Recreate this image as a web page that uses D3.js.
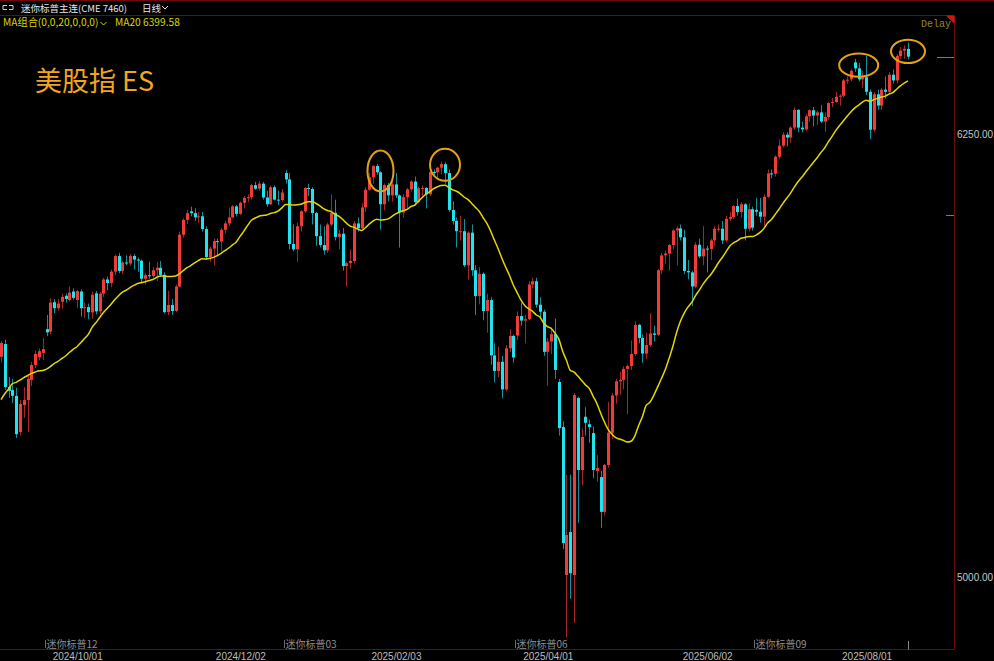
<!DOCTYPE html>
<html><head><meta charset="utf-8">
<script src="https://cdn.jsdelivr.net/npm/d3@7"></script>
<style>html,body{margin:0;padding:0;background:#000;overflow:hidden}svg{display:block}</style>
</head><body>
<svg id="chart" width="994" height="661"></svg>
<script>
// ---------------- DATA ----------------
const dates = [
"2024/08/30",
"2024/09/03","2024/09/04","2024/09/05","2024/09/06","2024/09/09","2024/09/10","2024/09/11","2024/09/12","2024/09/13","2024/09/16","2024/09/17","2024/09/18","2024/09/19","2024/09/20","2024/09/23","2024/09/24","2024/09/25","2024/09/26","2024/09/27","2024/09/30",
"2024/10/01","2024/10/02","2024/10/03","2024/10/04","2024/10/07","2024/10/08","2024/10/09","2024/10/10","2024/10/11","2024/10/14","2024/10/15","2024/10/16","2024/10/17","2024/10/18","2024/10/21","2024/10/22","2024/10/23","2024/10/24","2024/10/25","2024/10/28","2024/10/29","2024/10/30","2024/10/31",
"2024/11/01","2024/11/04","2024/11/05","2024/11/06","2024/11/07","2024/11/08","2024/11/11","2024/11/12","2024/11/13","2024/11/14","2024/11/15","2024/11/18","2024/11/19","2024/11/20","2024/11/21","2024/11/22","2024/11/25","2024/11/26","2024/11/27","2024/11/29",
"2024/12/02","2024/12/03","2024/12/04","2024/12/05","2024/12/06","2024/12/09","2024/12/10","2024/12/11","2024/12/12","2024/12/13","2024/12/16","2024/12/17","2024/12/18","2024/12/19","2024/12/20","2024/12/23","2024/12/24","2024/12/26","2024/12/27","2024/12/30","2024/12/31",
"2025/01/02","2025/01/03","2025/01/06","2025/01/07","2025/01/08","2025/01/10","2025/01/13","2025/01/14","2025/01/15","2025/01/16","2025/01/17","2025/01/21","2025/01/22","2025/01/23","2025/01/24","2025/01/27","2025/01/28","2025/01/29","2025/01/30","2025/01/31",
"2025/02/03","2025/02/04","2025/02/05","2025/02/06","2025/02/07","2025/02/10","2025/02/11","2025/02/12","2025/02/13","2025/02/14","2025/02/18","2025/02/19","2025/02/20","2025/02/21","2025/02/24","2025/02/25","2025/02/26","2025/02/27","2025/02/28",
"2025/03/03","2025/03/04","2025/03/05","2025/03/06","2025/03/07","2025/03/10","2025/03/11","2025/03/12","2025/03/13","2025/03/14","2025/03/17","2025/03/18","2025/03/19","2025/03/20","2025/03/21","2025/03/24","2025/03/25","2025/03/26","2025/03/27","2025/03/28","2025/03/31",
"2025/04/01","2025/04/02","2025/04/03","2025/04/04","2025/04/07","2025/04/08","2025/04/09","2025/04/10","2025/04/11","2025/04/14","2025/04/15","2025/04/16","2025/04/17","2025/04/21","2025/04/22","2025/04/23","2025/04/24","2025/04/25","2025/04/28","2025/04/29","2025/04/30",
"2025/05/01","2025/05/02","2025/05/05","2025/05/06","2025/05/07","2025/05/08","2025/05/09","2025/05/12","2025/05/13","2025/05/14","2025/05/15","2025/05/16","2025/05/19","2025/05/20","2025/05/21","2025/05/22","2025/05/23","2025/05/27","2025/05/28","2025/05/29","2025/05/30",
"2025/06/02","2025/06/03","2025/06/04","2025/06/05","2025/06/06","2025/06/09","2025/06/10","2025/06/11","2025/06/12","2025/06/13","2025/06/16","2025/06/17","2025/06/18","2025/06/20","2025/06/23","2025/06/24","2025/06/25","2025/06/26","2025/06/27","2025/06/30",
"2025/07/01","2025/07/02","2025/07/03","2025/07/07","2025/07/08","2025/07/09","2025/07/10","2025/07/11","2025/07/14","2025/07/15","2025/07/16","2025/07/17","2025/07/18","2025/07/21","2025/07/22","2025/07/23","2025/07/24","2025/07/25","2025/07/28","2025/07/29","2025/07/30","2025/07/31",
"2025/08/01","2025/08/04","2025/08/05","2025/08/06","2025/08/07","2025/08/08","2025/08/11","2025/08/12","2025/08/13","2025/08/14","2025/08/15"
];
const opens = [5622,5658,5537,5528,5512,5410,5486,5500,5557,5599,5621,5633,5700,5693,5776,5759,5777,5794,5782,5806,5782,5806,5759,5762,5747,5801,5750,5800,5840,5830,5862,5906,5864,5888,5885,5906,5896,5893,5842,5852,5850,5866,5873,5853,5748,5768,5751,5820,5966,6008,6032,6027,6015,6018,5982,5903,5927,5948,5947,5980,5998,6015,6046,6025,6056,6070,6072,6106,6096,6110,6071,6052,6100,6065,6064,6140,6122,5940,5925,5990,6032,6098,6095,6027,5962,5937,5922,5995,6028,5960,5969,5878,5886,5892,5998,5984,6043,6093,6128,6160,6142,6052,6106,6077,6108,6077,6029,6072,6094,6116,6058,6097,6098,6080,6143,6142,6155,6165,6140,6036,6005,5976,5976,5880,5972,5866,5793,5856,5751,5782,5626,5582,5608,5530,5646,5681,5682,5737,5724,5728,5826,5835,5769,5749,5636,5665,5686,5551,5424,5007,5128,5007,5506,5303,5453,5432,5407,5300,5283,5185,5317,5408,5513,5553,5557,5588,5596,5630,5712,5675,5631,5655,5688,5684,5866,5908,5913,5937,5978,5984,5959,5864,5860,5820,5938,5905,5927,5926,5950,5983,5983,5950,6011,6016,6047,6030,6052,5983,6038,6036,6031,6017,6073,6139,6138,6186,6217,6248,6240,6268,6318,6268,6263,6300,6317,6302,6311,6285,6298,6337,6340,6355,6358,6401,6404,6452,6435,6404,6410,6369,6262,6362,6330,6375,6369,6417,6401,6470,6485,6490];
const highs = [5667,5670,5565,5560,5535,5500,5537,5568,5607,5640,5645,5675,5740,5787,5785,5785,5800,5800,5820,5815,5810,5812,5775,5772,5805,5808,5805,5845,5848,5868,5910,5915,5892,5908,5912,5912,5902,5896,5858,5890,5875,5890,5892,5860,5808,5785,5825,5975,6012,6036,6045,6040,6030,6030,5990,5932,5955,5955,5985,6005,6043,6050,6050,6060,6075,6080,6110,6115,6118,6115,6090,6105,6105,6090,6095,6148,6140,5995,6000,6036,6100,6110,6100,6030,5995,5990,6000,6080,6065,5980,5985,5890,5925,6005,6015,6055,6100,6140,6162,6166,6145,6110,6112,6120,6140,6080,6080,6098,6120,6130,6102,6105,6100,6146,6150,6158,6172,6170,6150,6060,6015,6020,6010,5975,5995,5880,5875,5860,5800,5790,5660,5650,5625,5655,5700,5685,5750,5775,5740,5835,5845,5845,5790,5755,5675,5705,5730,5560,5440,5290,5290,5520,5510,5420,5480,5445,5425,5345,5300,5320,5495,5520,5560,5580,5595,5600,5668,5722,5715,5685,5690,5745,5710,5870,5915,5922,5940,5982,5990,5995,5980,5895,5865,5945,5955,5990,5935,5955,5990,5995,6005,6020,6030,6050,6068,6058,6055,6055,6045,6070,6070,6080,6150,6150,6190,6235,6255,6255,6272,6325,6320,6285,6305,6320,6326,6316,6331,6311,6340,6352,6368,6362,6405,6412,6432,6462,6450,6428,6470,6375,6368,6375,6380,6412,6425,6432,6475,6495,6500,6508];
const lows = [5606,5529,5506,5492,5393,5400,5450,5410,5540,5590,5612,5613,5680,5685,5745,5752,5758,5775,5778,5783,5760,5735,5732,5728,5730,5742,5742,5790,5810,5818,5852,5858,5855,5880,5878,5868,5862,5828,5826,5842,5845,5835,5848,5744,5740,5740,5748,5818,5958,5996,6018,6005,6000,5975,5895,5890,5880,5905,5920,5970,5990,6012,6018,6022,6040,6058,6065,6092,6090,6065,6045,6050,6063,6050,6060,6110,5925,5920,5890,5975,6028,6075,5995,5935,5930,5910,5915,5990,5950,5925,5865,5820,5870,5885,5975,5980,6030,6090,6110,6135,5980,6035,6060,6060,6070,5930,6015,6040,6088,6048,6055,6070,6040,6075,6130,6120,6135,6110,6030,5995,5930,5950,5875,5840,5850,5740,5770,5725,5690,5600,5550,5565,5505,5525,5635,5605,5670,5710,5660,5725,5815,5760,5730,5625,5540,5630,5560,5400,5080,4832,4940,4872,5154,5260,5400,5380,5280,5270,5140,5175,5310,5390,5490,5515,5530,5460,5585,5625,5660,5605,5615,5650,5665,5680,5855,5885,5865,5925,5880,5950,5855,5840,5765,5815,5900,5880,5860,5895,5935,5975,5940,5945,6005,6010,6020,6015,5950,5975,5978,6020,6000,5985,6070,6125,6130,6180,6212,6215,6225,6262,6255,6255,6258,6285,6271,6276,6281,6256,6290,6326,6338,6330,6352,6392,6398,6425,6398,6380,6360,6235,6255,6318,6318,6350,6362,6392,6392,6462,6462,6460];
const closes = [5661,5537,5526,5512,5404,5489,5500,5560,5599,5630,5638,5644,5691,5775,5759,5772,5791,5785,5803,5788,5807,5759,5762,5748,5797,5750,5800,5840,5830,5862,5906,5864,5888,5885,5906,5896,5893,5842,5852,5850,5866,5873,5853,5748,5768,5751,5820,5966,6008,6027,6027,6015,6018,5982,5903,5927,5948,5947,5980,5998,6015,6046,6025,6056,6070,6072,6106,6096,6110,6071,6052,6100,6065,6064,6085,6122,5940,5925,5990,6032,6098,6095,6027,5962,5937,5922,5995,6028,5960,5969,5878,5886,5892,5998,5984,6043,6093,6128,6160,6142,6052,6106,6077,6108,6077,6029,6072,6094,6116,6058,6097,6098,6080,6143,6142,6155,6165,6140,6036,6005,5976,5976,5880,5972,5866,5793,5856,5751,5782,5626,5582,5608,5530,5646,5681,5620,5737,5724,5728,5826,5835,5769,5749,5636,5665,5686,5585,5421,5097,5120,5012,5514,5303,5396,5436,5424,5303,5309,5185,5317,5408,5513,5553,5557,5588,5596,5630,5712,5675,5631,5655,5688,5684,5866,5908,5913,5937,5978,5984,5959,5864,5860,5820,5938,5905,5927,5926,5950,5983,5983,5950,6011,6016,6047,6030,6052,5983,6038,5986,6031,6017,6073,6139,6138,6186,6217,6248,6240,6268,6318,6268,6263,6300,6317,6302,6311,6285,6298,6337,6340,6355,6358,6401,6403,6428,6435,6404,6410,6369,6262,6362,6330,6375,6369,6417,6401,6470,6485,6490,6468];
// closes of the 19 sessions before the first bar (needed for the 20-day MA)
const priorCloses = [5201,5255,5214,5334,5359,5359,5450,5470,5558,5569,5623,5612,5636,5586,5650,5632,5640,5607,5607];
const maPeriod = 20;
const maLegendValue = "6399.58";
const priceTicks = [6250, 5000];
const dateTicks = ["2024/10/01","2024/12/02","2025/02/03","2025/04/01","2025/06/02","2025/08/01"];
const rollDates = ["2024/09/18","2024/12/17","2025/03/19","2025/06/18"];
const rollLabels = ["迷你标普12","迷你标普03","迷你标普06","迷你标普09"];
const markDates = ["2025/01/27","2025/02/20","2025/07/29","2025/08/15"];
const markPrices = [6146, 6163, 6444, 6483];
const sideLevel = 6022;
const title = "迷你标普主连(CME 7460)";
const period = "日线";
const maLegend = "MA组合(0,0,20,0,0,0)";
const bigLabel = "美股指 ES";

// ---------------- LAYOUT ----------------
const svg = d3.select("#chart");
const plotRight = 954, plotBottom = 649.5, plotTop = 15.5;
const x = d3.scalePoint().domain(dates).range([1, 908]);
const y = d3.scaleLinear().domain([5000, 6250]).range([577.5, 134]);

svg.append("rect").attr("width",994).attr("height",661).attr("fill","#000");
svg.append("defs").append("clipPath").attr("id","clip")
  .append("rect").attr("x",0).attr("y",plotTop+0.5).attr("width",plotRight).attr("height",plotBottom-plotTop-0.5);

const bars = dates.map((d,i)=>({d, o:opens[i], h:highs[i], l:lows[i], c:closes[i]}));
const g = svg.append("g").attr("clip-path","url(#clip)");
const UP="#f03b3b", DN="#1fe3ee", UPW="#a52626", DNW="#14909a";
const px = d => Math.round(x(d));
g.selectAll("line.wick").data(bars).join("line").attr("class","wick")
  .attr("x1",d=>px(d.d)+0.5).attr("x2",d=>px(d.d)+0.5)
  .attr("y1",d=>y(d.h)).attr("y2",d=>y(d.l))
  .attr("stroke",d=>d.c>=d.o?UPW:DNW).attr("stroke-width",1);
g.selectAll("rect.body").data(bars).join("rect").attr("class","body")
  .attr("x",d=>px(d.d)-1).attr("width",3)
  .attr("y",d=>y(Math.max(d.o,d.c)))
  .attr("height",d=>Math.max(1, Math.abs(y(d.o)-y(d.c))))
  .attr("fill",d=>d.c>=d.o?UP:DN);

// MA20 computed from closes
const allCloses = priorCloses.concat(closes);
const ma = closes.map((c,i)=>{
  const k = i + priorCloses.length;
  return {d:dates[i], v:d3.mean(allCloses.slice(k-maPeriod+1,k+1))};
});
g.append("path").datum(ma)
  .attr("d", d3.line().x(d=>x(d.d)).y(d=>y(d.v)).curve(d3.curveMonotoneX))
  .attr("fill","none").attr("stroke","#e2d800").attr("stroke-width",1.5);

// highlight ellipses
const ellR = [[13,20.5],[15,16],[19.5,11.7],[17,11.7]];
svg.append("g").selectAll("ellipse").data(markDates).join("ellipse")
  .attr("cx",(d,i)=>x(d)).attr("cy",(d,i)=>y(markPrices[i]))
  .attr("rx",(d,i)=>ellR[i][0]).attr("ry",(d,i)=>ellR[i][1])
  .attr("fill","none").attr("stroke","#e4a316").attr("stroke-width",2);

// frame
const frame = svg.append("g").attr("stroke","#6e0a0a").attr("stroke-width",1).attr("fill","none");
frame.append("line").attr("x1",0).attr("x2",994).attr("y1",0.5).attr("y2",0.5);
frame.append("line").attr("x1",0).attr("x2",plotRight).attr("y1",plotTop).attr("y2",plotTop);
frame.append("line").attr("x1",plotRight+0.5).attr("x2",plotRight+0.5).attr("y1",plotTop).attr("y2",plotBottom);
frame.append("line").attr("x1",0).attr("x2",plotRight+0.5).attr("y1",plotBottom).attr("y2",plotBottom);
svg.append("path").attr("d",`M${plotRight-8},${plotTop} L${plotRight+0.5},${plotTop} L${plotRight+0.5},${plotTop+8.5} Z`).attr("fill","#d41414");

// price axis
const yAxis = d3.axisRight(y).tickValues(priceTicks).tickFormat(d3.format(".2f")).tickSize(0).tickPadding(3);
const ya = svg.append("g").attr("transform",`translate(${plotRight},0)`).call(yAxis);
ya.select(".domain").remove();
ya.selectAll("text").attr("fill","#c6c6c6").attr("font-family","Liberation Sans, Arial, sans-serif").attr("font-size",10);

// last price marker and side level marker
const lastY = Math.round(y(closes[closes.length-1]))+0.5;
svg.append("line").attr("x1",937).attr("x2",plotRight).attr("y1",lastY).attr("y2",lastY)
  .attr("stroke","#8a8420").attr("stroke-width",1);
const sideY = Math.round(y(sideLevel))+0.5;
svg.append("line").attr("x1",946).attr("x2",plotRight).attr("y1",sideY).attr("y2",sideY)
  .attr("stroke","#8a8420").attr("stroke-width",1);

// date axis
svg.append("g").selectAll("text").data(dateTicks).join("text")
  .attr("x",d=>x(d)-3).attr("y",660).attr("text-anchor","middle")
  .attr("fill","#bdbdbd").attr("font-family","Liberation Sans, Arial, sans-serif").attr("font-size",10).text(d=>d);
svg.append("line").attr("x1",px(dates[dates.length-1])+0.5).attr("x2",px(dates[dates.length-1])+0.5).attr("y1",641).attr("y2",plotBottom)
  .attr("stroke","#888").attr("stroke-width",1);
// contract roll marks
const rl = svg.append("g");
rollDates.forEach((d,i)=>{
  const xx = Math.round(x(d)-2)+0.5;
  rl.append("line").attr("x1",xx).attr("x2",xx).attr("y1",640).attr("y2",648).attr("stroke","#6a6a6a");
  rl.append("text").attr("x",xx+1).attr("y",648).attr("fill","#8e8e8e")
    .attr("font-family","Noto Sans CJK SC, sans-serif").attr("font-size",10).text(rollLabels[i]);
});

// header
const hd = svg.append("g").attr("font-family","Noto Sans CJK SC, sans-serif");
hd.append("path").attr("d","M3,5.5 h4 M3,9.5 h4 M3,5.5 v4 M9,5.5 h4 M9,9.5 h4 M13,5.5 v4").attr("stroke","#d0d0d0").attr("fill","none");
hd.append("text").attr("x",21).attr("y",11.5).attr("fill","#e6e6e6").attr("font-size",9.5).text(title);
hd.append("text").attr("x",142).attr("y",11.5).attr("fill","#e6e6e6").attr("font-size",9.5).text(period);
hd.append("path").attr("d","M162,6 l3,3 l3,-3").attr("stroke","#e6e6e6").attr("fill","none");
hd.append("text").attr("x",3).attr("y",26).attr("fill","#d6d600").attr("font-size",10.2).text(maLegend);
hd.append("path").attr("d","M100.5,22 l3,3 l3,-3").attr("stroke","#d6d600").attr("fill","none");
hd.append("text").attr("x",115).attr("y",26).attr("fill","#d6d600").attr("font-size",10.2).text("MA20 " + maLegendValue);
svg.append("text").attr("x",921).attr("y",27).attr("fill","#8f8a2a").attr("font-family","Liberation Mono, monospace").attr("font-size",10).text("Delay");

// big label
svg.append("text").attr("x",35).attr("y",91).attr("fill","#f2a51e")
  .attr("font-family","Noto Sans CJK SC, sans-serif").attr("font-size",27).text(bigLabel);
</script>
</body></html>
